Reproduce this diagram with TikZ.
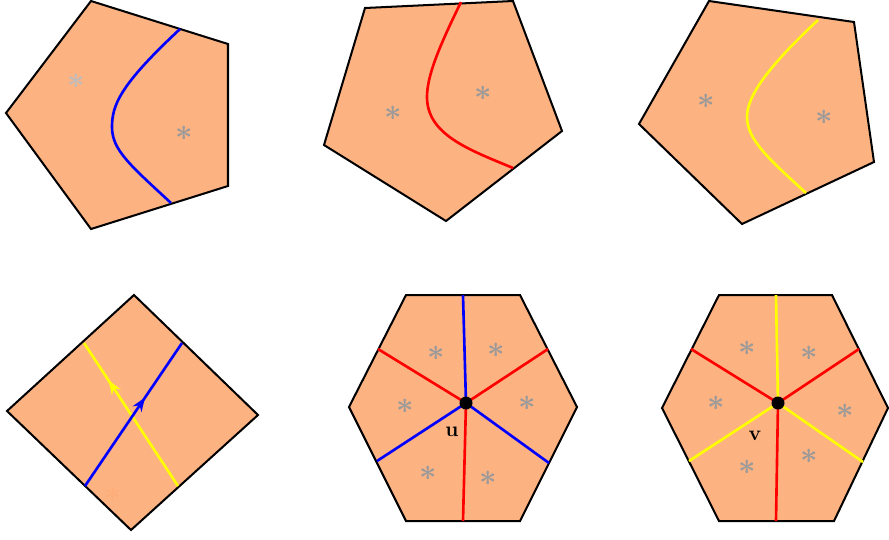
\documentclass[tikz,border=0pt]{standalone}
\usepackage{amsmath, amssymb}
\usepackage{tikz}
\usetikzlibrary{arrows.meta, decorations.markings, calc}
\usepackage{xcolor}
\definecolor{Peach}{HTML}{FDB282}
\definecolor{CutBlue}{HTML}{0000FF}
\definecolor{CutRed}{HTML}{FF0000}
\definecolor{CutYellow}{HTML}{FFFF00}
\definecolor{StarGray}{HTML}{9A9A9A}

\tikzset{
  face/.style={fill=Peach, draw=black, line width=1.15pt},
  cut/.style={line width=1.5pt},
  star/.style={text=StarGray, font=\LARGE\boldmath, inner sep=0pt},
  midarrow/.style={postaction={decorate}, decoration={markings,
      mark=at position #1 with {\arrow{Stealth[length=8pt,width=6pt]}}}}
}

\begin{document}
\begin{tikzpicture}[x=0.02cm, y=-0.02cm, every node/.style={font=\footnotesize}]
  \useasboundingbox (0,0) rectangle (889,539);

  % Top row: pentagons with one cut each
  \draw[face] (91,1) -- (228,44) -- (228,186) -- (91,229) -- (6,113) -- cycle;
  \draw[face] (365,8) -- (513,1) -- (562,131) -- (446,221) -- (324,145) -- cycle;
  \draw[face] (709,1) -- (854,22) -- (874,162) -- (742,224) -- (639,124) -- cycle;
  \draw[cut, CutBlue] (180,29) .. controls (120,85) and (112,105) .. (112,127)
    .. controls (112,150) and (130,165) .. (171,203);
  \draw[cut, CutRed] (461,2) .. controls (440,45) and (427,75) .. (427,97)
    .. controls (427,135) and (470,150) .. (513,168);
  \draw[cut, CutYellow] (818,20) .. controls (770,65) and (747,95) .. (747,117)
    .. controls (747,140) and (770,160) .. (806,193);
  \node[star, text=StarGray!65] (pa1) at (76,81) {$\ast$};
  \node[star] (pa2) at (184,133) {$\ast$};
  \node[star] (pb1) at (393,113) {$\ast$};
  \node[star] (pb2) at (483,93) {$\ast$};
  \node[star] (pc1) at (706,101) {$\ast$};
  \node[star] (pc2) at (824,117) {$\ast$};

  % Square with two oriented cuts
  \draw[face] (134,295) -- (258,415) -- (131,530) -- (7,411) -- cycle;
  \draw[cut, CutYellow, midarrow=0.74] (178,486) -- (84,343);
  \draw[cut, CutBlue, midarrow=0.62] (85,486) -- (182,343);
  \node[star, text=orange, text opacity=0.07] (sq) at (113,494) {$\ast$};

  % Hexagon around u
  \draw[face] (406,295) -- (520,295) -- (577,407) -- (520,521) -- (406,521) -- (349,407) -- cycle;
  \coordinate (u) at (466,403);
  \draw[cut, CutBlue] (u) -- (463,295);
  \draw[cut, CutRed] (u) -- (548,349);
  \draw[cut, CutBlue] (u) -- (549,463);
  \draw[cut, CutRed] (u) -- (463,521);
  \draw[cut, CutBlue] (u) -- (377,461);
  \draw[cut, CutRed] (u) -- (378,349);
  \fill (u) circle (6.5);
  \node[font=\large\bfseries] (ulab) at (452,432) {u};
  \foreach \p [count=\i] in {(436,353),(496,350),(405,406),(527,403),(428,473),(488,478)}
    \node[star] (us\i) at \p {$\ast$};

  % Hexagon around v
  \draw[face] (719,295) -- (832,295) -- (888,408) -- (834,521) -- (719,521) -- (662,408) -- cycle;
  \coordinate (v) at (778,403);
  \draw[cut, CutYellow] (v) -- (776,295);
  \draw[cut, CutRed] (v) -- (859,349);
  \draw[cut, CutYellow] (v) -- (863,462);
  \draw[cut, CutRed] (v) -- (776,521);
  \draw[cut, CutYellow] (v) -- (689,461);
  \draw[cut, CutRed] (v) -- (691,349);
  \fill (v) circle (6.5);
  \node[font=\large\bfseries, inner sep=1pt] (vlab) at (755,436) {v};
  \foreach \p [count=\i] in {(747,348),(809,353),(716,403),(845,411),(747,467),(809,456)}
    \node[star] (vs\i) at \p {$\ast$};
\end{tikzpicture}
\end{document}
